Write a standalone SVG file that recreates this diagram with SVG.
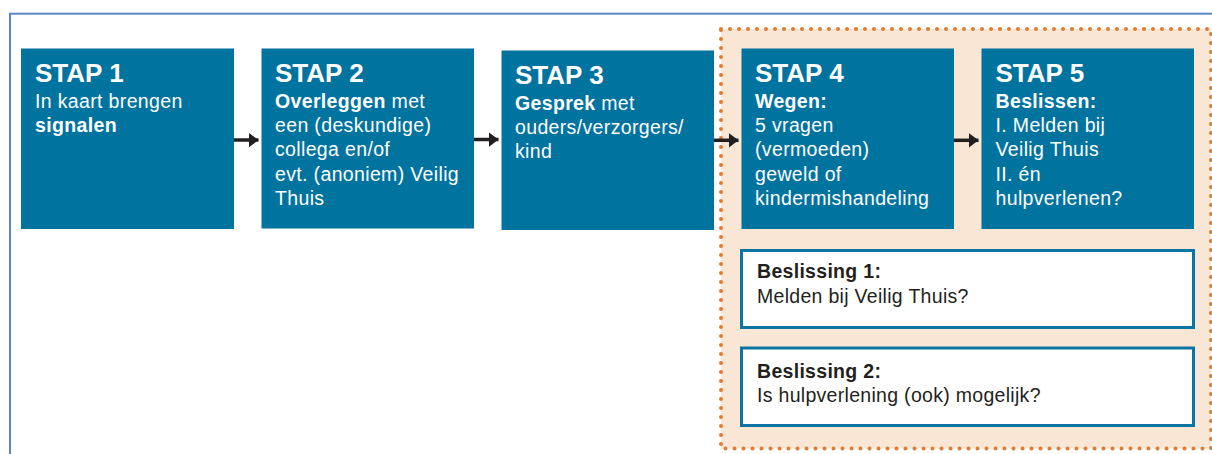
<svg xmlns="http://www.w3.org/2000/svg" width="1212" height="454" viewBox="0 0 1212 454">
<defs>
<style>
.step{fill:#01739f;}
.h{font-family:"Liberation Sans",Arial,sans-serif;font-weight:bold;font-size:26px;fill:#ffffff;}
.t{font-family:"Liberation Sans",Arial,sans-serif;font-size:19.5px;letter-spacing:0.35px;fill:#ffffff;}
.d{font-family:"Liberation Sans",Arial,sans-serif;font-size:19.5px;letter-spacing:0.3px;fill:#231f20;}
.b{font-weight:bold;}
.dec{fill:#ffffff;stroke:#0a74a2;stroke-width:3;}
.arr{stroke:#231f20;stroke-width:3.5;fill:none;}
</style>
<marker id="ah" markerUnits="userSpaceOnUse" markerWidth="11" markerHeight="16" refX="10" refY="8" orient="auto">
<path d="M0,0.5 L10,8 L0,15.5 z" fill="#231f20"/>
</marker>
</defs>
<rect width="1212" height="454" fill="#ffffff"/>
<rect x="10" y="13.7" width="1230" height="470" fill="none" stroke="#5a87c6" stroke-width="2"/>
<g id="phase">
<rect x="721" y="29" width="490" height="419.5" fill="#f9e6d4" stroke="#e27a2f" stroke-width="4" stroke-dasharray="0 9" stroke-linecap="round"/>
</g>
<g id="stap1">
<rect class="step" x="21" y="48.5" width="213" height="180.5"/>
<text class="h" x="35" y="82">STAP 1</text>
<text class="t" x="35" y="108">In kaart brengen</text>
<text class="t b" x="35" y="132.3">signalen</text>
</g>
<g id="stap2">
<rect class="step" x="261.5" y="48.5" width="212.5" height="180"/>
<text class="h" x="275" y="82">STAP 2</text>
<text class="t" x="275" y="107.7"><tspan class="b">Overleggen</tspan> met</text>
<text class="t" x="275" y="132">een (deskundige)</text>
<text class="t" x="275" y="156.3">collega en/of</text>
<text class="t" x="275" y="180.6">evt. (anoniem) Veilig</text>
<text class="t" x="275" y="205">Thuis</text>
</g>
<g id="stap3">
<rect class="step" x="501.5" y="50.5" width="212.5" height="179.5"/>
<text class="h" x="515" y="84">STAP 3</text>
<text class="t" x="515" y="109.7"><tspan class="b">Gesprek</tspan> met</text>
<text class="t" x="515" y="134">ouders/verzorgers/</text>
<text class="t" x="515" y="158.3">kind</text>
</g>
<g id="stap4">
<rect class="step" x="741.5" y="48.5" width="212.5" height="180.5"/>
<text class="h" x="755" y="82">STAP 4</text>
<text class="t b" x="755" y="107.7">Wegen:</text>
<text class="t" x="755" y="132">5 vragen</text>
<text class="t" x="755" y="156.3">(vermoeden)</text>
<text class="t" x="755" y="180.6">geweld of</text>
<text class="t" x="755" y="205">kindermishandeling</text>
</g>
<g id="stap5">
<rect class="step" x="981.5" y="48.5" width="212.5" height="180.5"/>
<text class="h" x="995.5" y="82">STAP 5</text>
<text class="t b" x="995.5" y="107.7">Beslissen:</text>
<text class="t" x="995.5" y="132">I. Melden bij</text>
<text class="t" x="995.5" y="156.3">Veilig Thuis</text>
<text class="t" x="995.5" y="180.6">II. én</text>
<text class="t" x="995.5" y="205">hulpverlenen?</text>
</g>
<g id="beslissing1">
<rect class="dec" x="741.5" y="250.5" width="452" height="77"/>
<text class="d b" x="757" y="278.3">Beslissing 1:</text>
<text class="d" x="757" y="303.3">Melden bij Veilig Thuis?</text>
</g>
<g id="beslissing2">
<rect class="dec" x="741.5" y="348" width="452" height="77.5"/>
<text class="d b" x="757" y="377.7">Beslissing 2:</text>
<text class="d" x="757" y="402.3">Is hulpverlening (ook) mogelijk?</text>
</g>
<g id="connectors">
<line class="arr" x1="234" y1="140" x2="258.5" y2="140" marker-end="url(#ah)"/>
<line class="arr" x1="474" y1="139.5" x2="498.5" y2="139.5" marker-end="url(#ah)"/>
<line class="arr" x1="714" y1="140.3" x2="738.5" y2="140.3" marker-end="url(#ah)"/>
<line class="arr" x1="954" y1="140.3" x2="978.5" y2="140.3" marker-end="url(#ah)"/>
</g>
</svg>
